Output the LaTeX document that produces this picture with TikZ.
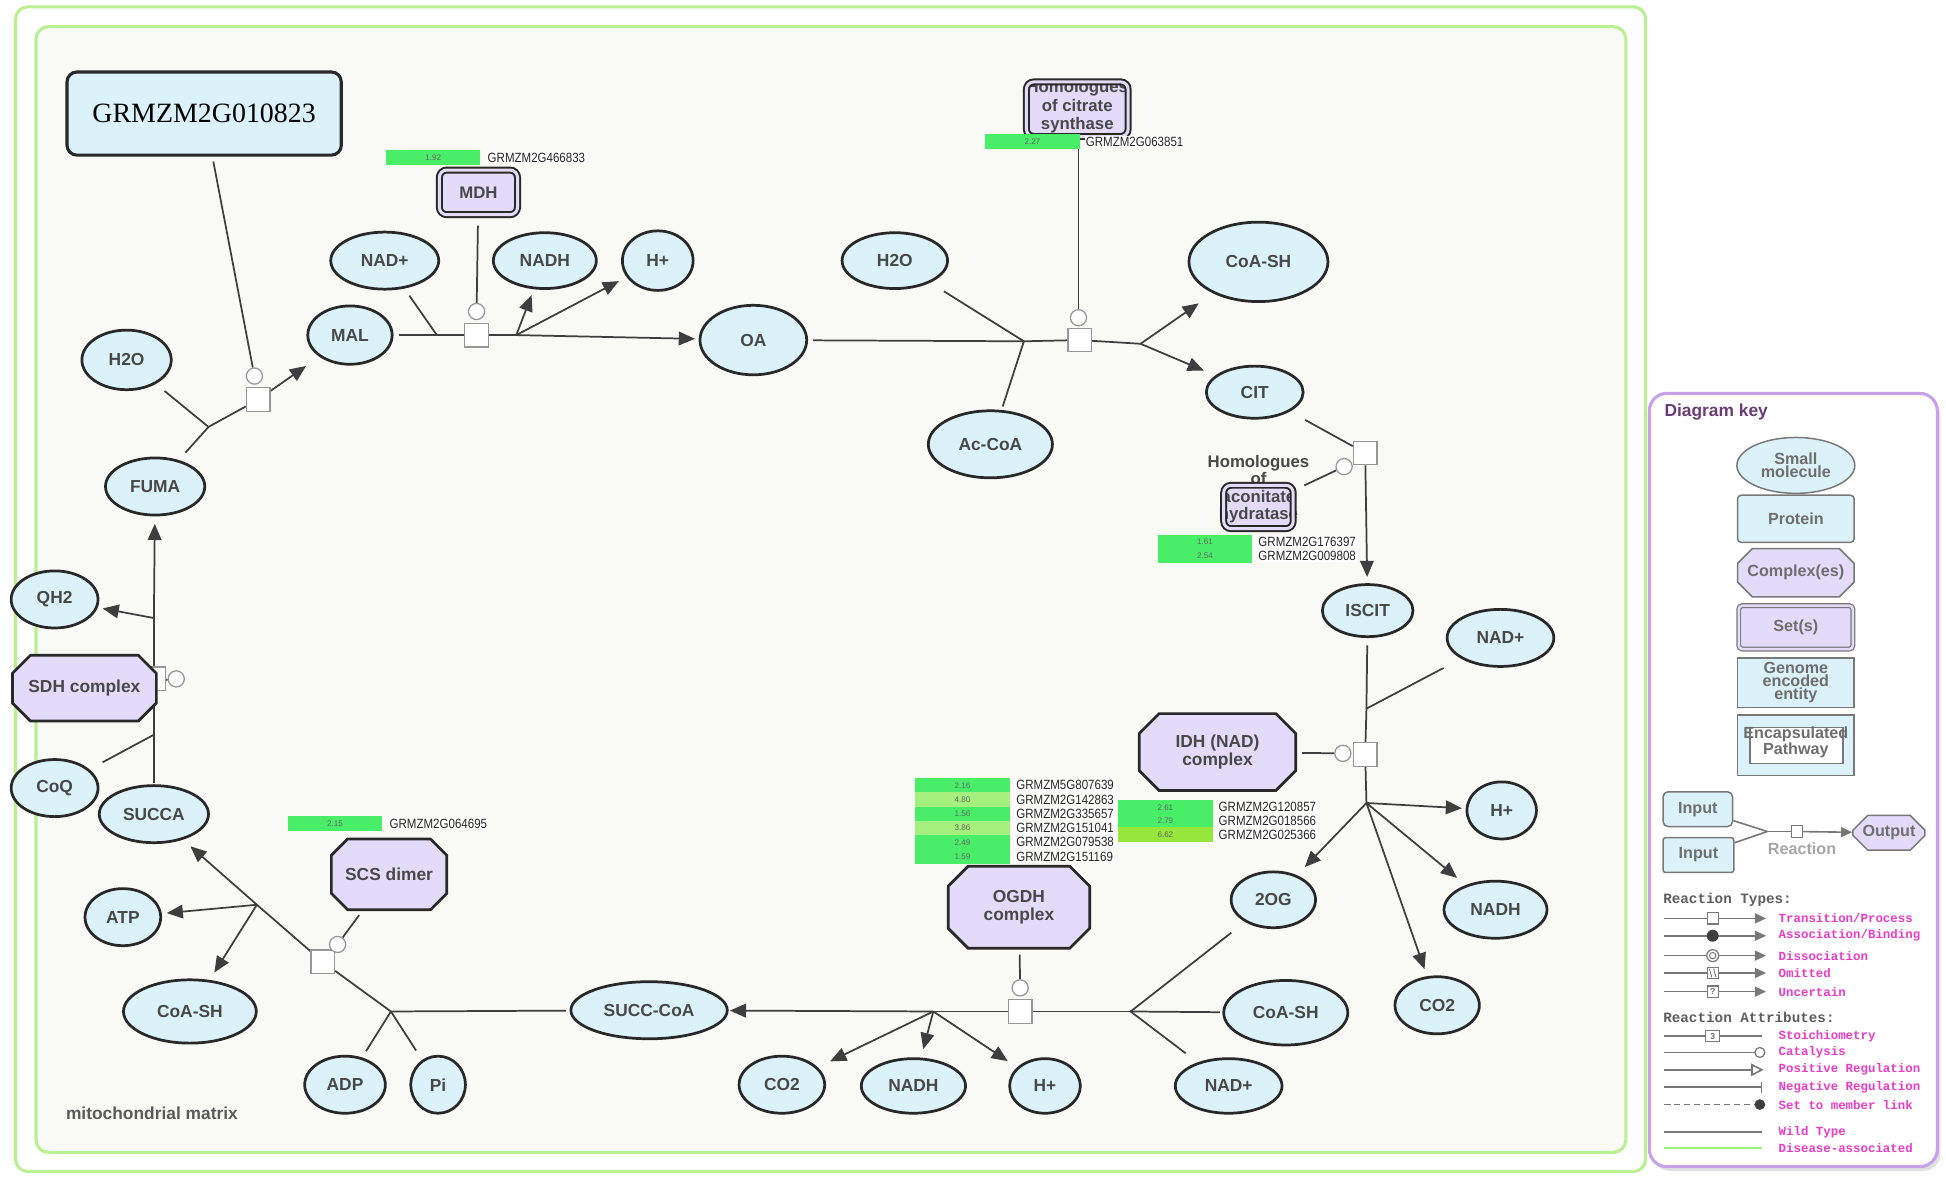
\documentclass[tikz,border=0pt]{standalone}
\usepackage{fontspec}
\setmainfont{Liberation Sans}
\newfontfamily\genefont{Liberation Serif}
\newfontfamily\keymono{Liberation Mono}
\newfontfamily\narrowfont[FakeStretch=0.86]{Liberation Sans}
\usetikzlibrary{shapes.geometric,shapes.misc,arrows.meta}
\pgfdeclarelayer{back}
\pgfdeclarelayer{bg}
\pgfsetlayers{back,bg,main}
\definecolor{molfill}{RGB}{220,242,251}
\definecolor{cpxfill}{RGB}{228,219,250}
\definecolor{edge}{RGB}{40,40,40}
\definecolor{lbl}{RGB}{72,72,72}
\definecolor{rxn}{RGB}{62,62,62}
\definecolor{glyph}{RGB}{150,150,150}
\definecolor{cmpt}{RGB}{185,240,145}
\definecolor{matrixbg}{RGB}{249,250,245}
\definecolor{gA}{RGB}{72,238,104}
\definecolor{gB}{RGB}{165,240,125}
\definecolor{gC}{RGB}{150,230,60}
\definecolor{keyborder}{RGB}{200,160,235}
\definecolor{keytitle}{RGB}{105,60,120}
\definecolor{keypink}{RGB}{232,60,200}
\definecolor{keygray}{RGB}{110,110,110}
\definecolor{keyedge}{RGB}{120,120,120}
\tikzset{
 mol/.style={ellipse, draw=edge, line width=2.2pt, fill=molfill, text=lbl, font=\bfseries\fontsize{14}{15}\selectfont, inner sep=0pt},
 cpx/.style={chamfered rectangle, chamfered rectangle xsep=8pt, chamfered rectangle ysep=8pt, draw=edge, line width=2.2pt, fill=cpxfill, text=lbl, font=\bfseries\fontsize{14}{15}\selectfont, align=center, inner sep=0pt},
 setfill/.style={rectangle, rounded corners=6pt, fill=cpxfill, inner sep=0pt},
 setline/.style={rectangle, rounded corners=6pt, draw=edge, line width=1.6pt, double=cpxfill, double distance=2.4pt, inner sep=0pt},
 settext/.style={text=lbl, font=\bfseries\fontsize{13.5}{15}\selectfont, align=center, inner sep=0pt},
 rsq/.style={rectangle, draw=glyph, fill=white, line width=1pt, minimum size=19pt, inner sep=0pt},
 cat/.style={circle, draw=glyph, fill=white, line width=1pt, minimum size=13pt, inner sep=0pt},
 rx/.style={draw=rxn, line width=1.4pt},
 prod/.style={rx, -{Triangle[length=13pt,width=11pt]}},
 bar/.style={rectangle, minimum width=76pt, minimum height=11.5pt, inner sep=0pt, font=\fontsize{6.5}{6.5}\selectfont, text=black!60},
 glbl/.style={anchor=west, fill=white, inner sep=0.8pt, font=\narrowfont\fontsize{10.8}{10.8}\selectfont, text=black!85},
 kmol/.style={ellipse, draw=keyedge, line width=1.2pt, fill=molfill, text=keygray, font=\bfseries\fontsize{13}{8}\selectfont, align=center, inner sep=0pt},
 kbox/.style={rectangle, rounded corners=3pt, draw=keyedge, line width=1.2pt, fill=molfill, text=keygray, font=\bfseries\fontsize{13}{9}\selectfont, align=center, inner sep=0pt},
 kcpx/.style={chamfered rectangle, chamfered rectangle xsep=6pt, chamfered rectangle ysep=6pt, draw=keyedge, line width=1.2pt, fill=cpxfill, text=keygray, font=\bfseries\fontsize{13}{9}\selectfont, align=center, inner sep=0pt},
 kline/.style={draw=keyedge, line width=1.3pt},
 ktip/.style={kline, -{Triangle[length=9pt,width=8pt]}},
 ksq/.style={rectangle, draw=keyedge, fill=white, line width=0.9pt, minimum size=9pt, inner sep=0pt, font=\bfseries\fontsize{7}{7}\selectfont, text=keygray},
 ktitle/.style={anchor=west, inner sep=0pt, font=\keymono\bfseries\fontsize{11.5}{11.5}\selectfont, text=keygray!85!black},
 klab/.style={anchor=west, inner sep=0pt, font=\keymono\bfseries\fontsize{10}{10}\selectfont, text=keypink},
}
\begin{document}
\begin{tikzpicture}[x=1pt,y=-1pt]
\useasboundingbox (0,0) rectangle (1568,952);
\begin{pgfonlayer}{back}
 \draw[cmpt, line width=2.5pt, fill=white, rounded corners=10pt] (12.5,5.5) rectangle (1326,944);
 \draw[cmpt, line width=2.5pt, fill=matrixbg, rounded corners=10pt] (29,21.5) rectangle (1310,928.5);
 \fill[black!12, rounded corners=14pt] (1331.5,320.5) rectangle (1563.5,943.5);
 \draw[keyborder, line width=2.5pt, fill=white, rounded corners=14pt] (1329,317) rectangle (1561,940);
\end{pgfonlayer}

% ---------- reaction glyphs ----------
\node[rsq] (r1) at (208,322) {};
\node[rsq] (r2) at (384,270) {};
\node[rsq] (r3) at (870,274) {};
\node[rsq] (r4) at (1100,365) {};
\node[rsq] (r5) at (1100,608) {};
\node[rsq] (r6) at (822,815) {};
\node[rsq] (r7) at (260,775) {};
\node[rsq] (r8) at (124,547) {};
\node[cat] (c1) at (205,303) {};
\node[cat] (c2) at (384,251) {};
\node[cat] (c3) at (869,256) {};
\node[cat] (c4) at (1083,376) {};
\node[cat] (c5) at (1082,607) {};
\node[cat] (c6) at (822,796) {};
\node[cat] (c7) at (272,761) {};
\node[cat] (c8) at (142,547) {};

% ---------- small molecules ----------
\node[mol, minimum width=72pt, minimum height=48pt] (h2oa) at (102,290) {H2O};
\node[mol, minimum width=68pt, minimum height=47pt] (mal) at (282,270) {MAL};
\node[mol, minimum width=87pt, minimum height=46pt] (nadpa) at (310,210) {NAD+};
\node[mol, minimum width=83pt, minimum height=45pt] (nadha) at (439,210) {NADH};
\node[mol, minimum width=57pt, minimum height=48pt] (hpa) at (530,210) {H+};
\node[mol, minimum width=86pt, minimum height=56pt] (oa) at (607,274) {OA};
\node[mol, minimum width=85pt, minimum height=45pt] (h2ob) at (721,210) {H2O};
\node[mol, minimum width=100pt, minimum height=54pt] (accoa) at (798,358) {Ac-CoA};
\node[mol, minimum width=112pt, minimum height=64pt] (coasha) at (1014,211) {CoA-SH};
\node[mol, minimum width=78pt, minimum height=42pt] (cit) at (1011,316) {CIT};
\node[mol, minimum width=73pt, minimum height=42pt] (iscit) at (1102,492) {ISCIT};
\node[mol, minimum width=86pt, minimum height=46pt] (nadpb) at (1209,514) {NAD+};
\node[mol, minimum width=56pt, minimum height=46pt] (hpb) at (1210,653) {H+};
\node[mol, minimum width=83pt, minimum height=46pt] (nadhb) at (1205,733) {NADH};
\node[mol, minimum width=68pt, minimum height=46pt] (co2a) at (1158,810) {CO2};
\node[mol, minimum width=68pt, minimum height=45pt] (og) at (1026,725) {2OG};
\node[mol, minimum width=100pt, minimum height=52pt] (coashb) at (1036,816) {CoA-SH};
\node[mol, minimum width=86pt, minimum height=44pt] (nadpc) at (990,875) {NAD+};
\node[mol, minimum width=57pt, minimum height=44pt] (hpc) at (842,875) {H+};
\node[mol, minimum width=84pt, minimum height=44pt] (nadhc) at (736,875) {NADH};
\node[mol, minimum width=69pt, minimum height=46pt] (co2b) at (630,874) {CO2};
\node[mol, minimum width=126pt, minimum height=46pt] (succoa) at (523,814) {SUCC-CoA};
\node[mol, minimum width=44pt, minimum height=46pt] (pi) at (353,874) {Pi};
\node[mol, minimum width=65pt, minimum height=46pt] (adp) at (278,874) {ADP};
\node[mol, minimum width=107pt, minimum height=51pt] (coashc) at (153,815) {CoA-SH};
\node[mol, minimum width=61pt, minimum height=46pt] (atp) at (99,739) {ATP};
\node[mol, minimum width=88pt, minimum height=46pt] (succa) at (124,656) {SUCCA};
\node[mol, minimum width=70pt, minimum height=46pt] (coq) at (44,635) {CoQ};
\node[mol, minimum width=70pt, minimum height=46pt] (qh2) at (44,483) {QH2};
\node[mol, minimum width=80pt, minimum height=46pt] (fuma) at (125,392) {FUMA};

% ---------- proteins, complexes, sets ----------
\node[rectangle, rounded corners=8pt, draw=edge, line width=2.5pt, fill=molfill, minimum width=221pt, minimum height=67pt, inner sep=0pt, font=\genefont\fontsize{22.5}{22.5}\selectfont, text=black] (gene) at (164.5,91.5) {GRMZM2G010823};
\node[cpx, minimum width=126pt, minimum height=62pt] (idh) at (981,606) {IDH (NAD)\\complex};
\node[cpx, minimum width=114pt, minimum height=66pt] (ogdh) at (821,731) {OGDH\\complex};
\node[cpx, minimum width=93pt, minimum height=57pt] (scs) at (313.5,704.5) {SCS dimer};
\node[cpx, minimum width=116pt, minimum height=53pt] (sdh) at (68,554.5) {SDH complex};
% MDH set
\node[setfill, minimum width=63pt, minimum height=36pt] (mdhfill) at (385.5,155) {};
\node[setline, minimum width=63pt, minimum height=36pt, settext] (mdh) at (385.5,155) {MDH};
% citrate synthase set
\node[setfill, minimum width=82pt, minimum height=44pt] (csfill) at (868,88) {};
\node[settext] (cstext) at (868,86) {Homologues\\of citrate\\synthase};
\node[setline, minimum width=82pt, minimum height=44pt] (cs) at (868,88) {};
% aconitase set
\node[setfill, minimum width=56pt, minimum height=35pt] (acofill) at (1014,408.5) {};
\node[settext, font=\bfseries\fontsize{13.5}{14}\selectfont] (acotext) at (1014,394) {Homologues\\of\\aconitate\\hydratase};
\node[setline, minimum width=56pt, minimum height=35pt] (aco) at (1014,408.5) {};

% ---------- expression bars ----------
\node[bar, fill=gA] (bmdh) at (349,127) {1.92};
\node[glbl] (lmdh) at (392,127) {GRMZM2G466833};
\node[bar, fill=gA] (bcs) at (832,114) {2.27};
\node[glbl] (lcs) at (874,114) {GRMZM2G063851};
\node[bar, fill=gA] (baco1) at (971,436.5) {1.61};
\node[bar, fill=gA] (baco2) at (971,448) {2.54};
\node[glbl] (laco1) at (1013,436.5) {GRMZM2G176397};
\node[glbl] (laco2) at (1013,448) {GRMZM2G009808};
\node[bar, fill=gA] (bog1) at (775.5,632.75) {2.16};
\node[bar, fill=gB] (bog2) at (775.5,644.25) {4.80};
\node[bar, fill=gA] (bog3) at (775.5,655.75) {1.56};
\node[bar, fill=gB] (bog4) at (775.5,667.25) {3.86};
\node[bar, fill=gA] (bog5) at (775.5,678.75) {2.49};
\node[bar, fill=gA] (bog6) at (775.5,690.25) {1.59};
\node[glbl] (log1) at (818,632.75) {GRMZM5G807639};
\node[glbl] (log2) at (818,644.25) {GRMZM2G142863};
\node[glbl] (log3) at (818,655.75) {GRMZM2G335657};
\node[glbl] (log4) at (818,667.25) {GRMZM2G151041};
\node[glbl] (log5) at (818,678.75) {GRMZM2G079538};
\node[glbl] (log6) at (818,690.25) {GRMZM2G151169};
\node[bar, fill=gA] (bidh1) at (939,650.5) {2.61};
\node[bar, fill=gA] (bidh2) at (939,661.5) {2.79};
\node[bar, fill=gC] (bidh3) at (939,672.5) {6.62};
\node[glbl] (lidh1) at (981,650.5) {GRMZM2G120857};
\node[glbl] (lidh2) at (981,661.5) {GRMZM2G018566};
\node[glbl] (lidh3) at (981,672.5) {GRMZM2G025366};
\node[bar, fill=gA] (bscs) at (270,663.5) {2.15};
\node[glbl] (lscs) at (313,663.5) {GRMZM2G064695};

\node[anchor=west, inner sep=0pt, text=lbl!90, font=\bfseries\fontsize{14}{14}\selectfont] (mm) at (53,897) {mitochondrial matrix};

% ---------- branch points ----------
\coordinate (b1) at (168,344);
\coordinate (b2in) at (352,270);
\coordinate (b2out) at (416,270);
\coordinate (b3in) at (825,275);
\coordinate (b3out) at (919,277);
\coordinate (b5in) at (1101,571);
\coordinate (b5out) at (1101,647);
\coordinate (b6in) at (911,815);
\coordinate (b6out) at (752,815);
\coordinate (b7in) at (315,815);
\coordinate (b7out) at (207,729);
\coordinate (b8in) at (124,592);
\coordinate (b8out) at (124,498);

\begin{pgfonlayer}{bg}
 % R1 fumarase
 \draw[rx, shorten <=9pt] (h2oa) -- (b1);
 \draw[rx, shorten <=8pt] (fuma) -- (b1);
 \draw[rx] (b1) -- (r1);
 \draw[prod, shorten >=13pt] (r1) -- (mal);
 \draw[rx, shorten <=4pt] (gene) -- (c1);
 % R2 MDH
 \draw[rx, shorten <=4pt] (mal) -- (b2in) -- (r2);
 \draw[rx, shorten <=7pt] (nadpa) -- (b2in);
 \draw[rx] (r2) -- (b2out);
 \draw[prod, shorten >=3pt] (b2out) -- (oa);
 \draw[prod, shorten >=5pt] (b2out) -- (nadha);
 \draw[prod, shorten >=7pt] (b2out) -- (hpa);
 \draw[rx, shorten <=8pt] (mdh) -- (c2);
 % R3 citrate synthase
 \draw[rx, shorten <=4pt] (oa) -- (b3in) -- (r3);
 \draw[rx, shorten <=13pt] (h2ob) -- (b3in);
 \draw[rx, shorten <=3pt] (accoa) -- (b3in);
 \draw[rx] (r3) -- (b3out);
 \draw[prod, shorten >=14pt] (b3out) -- (coasha);
 \draw[prod, shorten >=10pt] (b3out) -- (cit);
 \draw[rx] (bcs.south -| c3) -- (c3);
 % R4 aconitase
 \draw[rx, shorten <=14pt] (cit) -- (r4);
 \draw[prod, shorten >=5pt] (r4) -- (iscit);
 \draw[rx, shorten <=9pt] (aco) -- (c4);
 % R5 IDH
 \draw[rx, shorten <=6pt] (iscit) -- (b5in) -- (r5);
 \draw[rx, shorten <=16pt] (nadpb) -- (b5in);
 \draw[rx] (r5) -- (b5out);
 \draw[prod, shorten >=3pt] (b5out) -- (hpb);
 \draw[prod, shorten >=9pt] (b5out) -- (nadhb);
 \draw[prod, shorten >=6pt] (b5out) -- (co2a);
 \draw[prod, shorten >=9pt] (b5out) -- (og);
 \draw[rx, shorten <=4pt] (idh) -- (c5);
 % R6 OGDH
 \draw[rx, shorten <=14pt] (og) -- (b6in);
 \draw[rx, shorten <=2pt] (coashb) -- (b6in);
 \draw[rx, shorten <=12pt] (nadpc) -- (b6in);
 \draw[rx] (b6in) -- (r6);
 \draw[rx] (r6) -- (b6out);
 \draw[prod, shorten >=1pt] (b6out) -- (succoa);
 \draw[prod, shorten >=11pt] (b6out) -- (co2b);
 \draw[prod, shorten >=7pt] (b6out) -- (nadhc);
 \draw[prod, shorten >=9pt] (b6out) -- (hpc);
 \draw[rx, shorten <=4pt] (ogdh) -- (c6);
 % R7 SCS
 \draw[rx, shorten <=3pt] (succoa) -- (b7in);
 \draw[rx, shorten <=6pt] (adp) -- (b7in);
 \draw[rx, shorten <=9pt] (pi) -- (b7in);
 \draw[rx] (b7in) -- (r7);
 \draw[rx] (r7) -- (b7out);
 \draw[prod, shorten >=8pt] (b7out) -- (succa);
 \draw[prod, shorten >=4pt] (b7out) -- (atp);
 \draw[prod, shorten >=7pt] (b7out) -- (coashc);
 \draw[rx, shorten <=4pt] (scs) -- (c7);
 % R8 SDH
 \draw[rx, shorten <=1pt] (succa) -- (b8in);
 \draw[rx, shorten <=12pt] (coq) -- (b8in);
 \draw[rx] (b8in) -- (r8);
 \draw[rx] (r8) -- (b8out);
 \draw[prod, shorten >=6pt] (b8out) -- (fuma);
 \draw[prod, shorten >=4pt] (b8out) -- (qh2);
 \draw[rx] (sdh) -- (c8);
\end{pgfonlayer}

% ---------- diagram key ----------
\node[anchor=west, inner sep=0pt, text=keytitle, font=\bfseries\fontsize{14}{14}\selectfont] (ktitle) at (1341,332) {Diagram key};
\node[kmol, minimum width=95pt, minimum height=45pt] (ksm) at (1447,375) {Small\\molecule};
\node[kbox, minimum width=94pt, minimum height=38pt] (kprot) at (1447,418) {Protein};
\node[kcpx, minimum width=94pt, minimum height=39pt] (kcomp) at (1447,461.5) {Complex(es)};
\node[kbox, fill=cpxfill, double=cpxfill, double distance=2pt, line width=1pt, minimum width=92pt, minimum height=35pt] (kset) at (1447,505.5) {Set(s)};
\node[kbox, rounded corners=0pt, minimum width=94pt, minimum height=40pt] (kgen) at (1447,550) {Genome\\encoded\\entity};
\node[kbox, rounded corners=0pt, minimum width=94pt, minimum height=49pt] (kenc) at (1447,600.5) {};
\node[rectangle, draw=keyedge, fill=white, line width=1.2pt, minimum width=75pt, minimum height=29pt, inner sep=0pt] (kenci) at (1447.5,600.5) {};
\node[text=keygray, font=\bfseries\fontsize{13}{9}\selectfont, align=center, inner sep=0pt] (kenct) at (1447,598) {Encapsulated\\Pathway};

\node[kbox, rounded corners=4pt, minimum width=56pt, minimum height=28pt] (kin1) at (1368,652) {Input};
\node[kbox, rounded corners=2pt, minimum width=57pt, minimum height=28pt] (kin2) at (1368.5,689) {Input};
\node[kcpx, minimum width=58pt, minimum height=28pt] (kout) at (1522,671) {Output};
\node[ksq] (kr) at (1448,670) {};
\coordinate (km) at (1424,670);
\node[inner sep=0pt, text=black!35, font=\bfseries\fontsize{13}{13}\selectfont] (krl) at (1452,684) {Reaction};
\begin{pgfonlayer}{bg}
 \draw[kline] (kin1) -- (km);
 \draw[kline] (kin2) -- (km);
 \draw[kline] (km) -- (kr);
 \draw[ktip] (kr) -- (kout);
\end{pgfonlayer}

\node[ktitle] at (1340,725) {Reaction Types:};
\foreach \yy in {740,754,770,784,799} {\draw[ktip] (1341,\yy) -- (1423,\yy);}
\node[ksq] at (1380,740) {};
\fill[rxn] (1380,754) circle (4.8pt);
\draw[keyedge, fill=white, line width=1pt] (1380,770) circle (4.8pt);
\draw[keyedge, line width=0.8pt] (1380,770) circle (2.6pt);
\node[ksq] at (1380,784) {};
\draw[keyedge, line width=0.7pt] (1377.3,780.5) -- (1379.3,787.5) (1380.7,780.5) -- (1382.7,787.5);
\node[ksq] at (1380,799) {?};
\node[klab] at (1433,740) {Transition/Process};
\node[klab] at (1433,754) {Association/Binding};
\node[klab] at (1433,770) {Dissociation};
\node[klab] at (1433,784) {Omitted};
\node[klab] at (1433,799) {Uncertain};

\node[ktitle] at (1340,820) {Reaction Attributes:};
\draw[kline] (1341,835) -- (1420,835);
\node[ksq, minimum width=11pt] at (1380,835) {3};
\draw[kline] (1341,848) -- (1414,848);
\draw[keyedge, fill=white, line width=1pt] (1418,848) circle (4pt);
\draw[kline, -{Triangle[open,length=10pt,width=10pt]}] (1341,862) -- (1421,862);
\draw[kline, -{Bar[width=9pt]}] (1341,876) -- (1420,876);
\draw[kline, dashed, dash pattern=on 5pt off 3pt] (1341,890) -- (1414,890);
\fill[rxn] (1418,890) circle (4.3pt);
\node[klab] at (1433,835) {Stoichiometry};
\node[klab] at (1433,848) {Catalysis};
\node[klab] at (1433,862) {Positive Regulation};
\node[klab] at (1433,876) {Negative Regulation};
\node[klab] at (1433,890) {Set to member link};
\draw[kline] (1341,912) -- (1420,912);
\draw[cmpt!85!green, line width=1.6pt] (1341,925) -- (1420,925);
\node[klab] at (1433,912) {Wild Type};
\node[klab] at (1433,925) {Disease-associated};
\end{tikzpicture}
\end{document}
